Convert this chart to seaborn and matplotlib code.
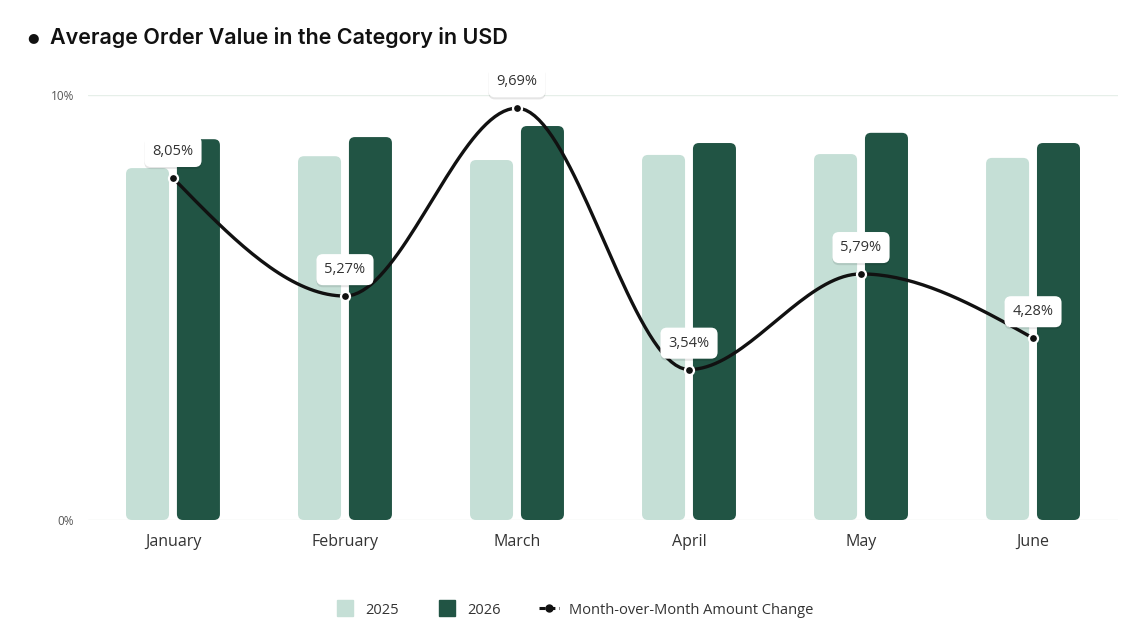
import numpy as np
import pandas as pd
import matplotlib
matplotlib.use("Agg")
import matplotlib.pyplot as plt
import seaborn as sns
from matplotlib.patches import FancyBboxPatch
from matplotlib.lines import Line2D
import matplotlib.patheffects as pe

# Data
months = ["January", "February", "March", "April", "May", "June"]
aov_2025 = [8.28, 8.56, 8.47, 8.59, 8.61, 8.52]
aov_2026 = [8.96, 9.01, 9.27, 8.87, 9.11, 8.87]
mom_change = [8.05, 5.27, 9.69, 3.54, 5.79, 4.28]
mom_labels = ["8,05%", "5,27%", "9,69%", "3,54%", "5,79%", "4,28%"]

light = "#c5dfd6"
dark = "#215444"

sns.set_theme(style="white")
plt.rcParams["font.family"] = ["Open Sans", "DejaVu Sans"]

df = pd.DataFrame({
    "month": months * 2,
    "value": aov_2025 + aov_2026,
    "year": ["2025"] * 6 + ["2026"] * 6,
})

W, H = 1148, 623
fig = plt.figure(figsize=(W / 100, H / 100), dpi=100)
ax = fig.add_axes([88 / W, (H - 520) / H, (1118 - 88) / W, (520 - 95) / H])

sns.barplot(data=df, x="month", y="value", hue="year", order=months,
            palette=[light, dark], width=0.592, gap=0.155, ax=ax,
            legend=False, errorbar=None, saturation=1)

ax.set_xlim(-0.494, 5.494)
ax.set_ylim(0, 10)

# round the bar corners
px_x = (1118 - 88) / 5.988
px_y = (520 - 95) / 10
r_px = 6
for p in list(ax.patches):
    x0, y0 = p.get_x(), p.get_y()
    w, h = p.get_width(), p.get_height()
    fb = FancyBboxPatch((x0, y0), w, h,
                        boxstyle=f"round,pad=0,rounding_size={r_px / px_x}",
                        mutation_aspect=px_x / px_y,
                        fc=p.get_facecolor(), ec="none", zorder=2)
    p.remove()
    ax.add_patch(fb)

# smooth monotone curve through the points
x = np.arange(len(mom_change), dtype=float)
y = np.array(mom_change)
d = np.diff(y)
m = np.zeros_like(y)
for i in range(1, len(y) - 1):
    if d[i - 1] * d[i] > 0:
        m[i] = 2 / (1 / d[i - 1] + 1 / d[i])
m[0] = 1.5 * d[0] - 0.5 * m[1]
m[-1] = 1.5 * d[-1] - 0.5 * m[-2]
xs, ys = [], []
for i in range(len(y) - 1):
    t = np.linspace(0, 1, 40)
    h00 = 2 * t**3 - 3 * t**2 + 1
    h10 = t**3 - 2 * t**2 + t
    h01 = -2 * t**3 + 3 * t**2
    h11 = t**3 - t**2
    xs.extend(x[i] + t)
    ys.extend(h00 * y[i] + h10 * m[i] + h01 * y[i + 1] + h11 * m[i + 1])
ax.plot(xs, ys, color="#111111", lw=2.4, zorder=4, solid_capstyle="round")
ax.scatter(x, y, s=42, color="#111111", edgecolor="white", linewidth=1.6, zorder=5)

for xi, yi, lab in zip(x, y, mom_labels):
    t = ax.annotate(lab, (xi, yi), xytext=(0, 19), textcoords="offset points",
                    ha="center", va="center", fontsize=10.5, color="#333333",
                    zorder=6, annotation_clip=False,
                    bbox=dict(boxstyle="round,pad=0.55,rounding_size=0.45",
                              fc="white", ec="none"))
    t.get_bbox_patch().set_path_effects([
        pe.SimplePatchShadow(offset=(0, -1.5), shadow_rgbFace="#000000", alpha=0.10),
        pe.Normal()])

# axes styling
ax.set_yticks([0, 10])
ax.set_yticklabels(["0%", "10%"], fontsize=8.5, color="#555555")
ax.tick_params(axis="y", length=0, pad=10)
ax.tick_params(axis="x", length=0, pad=10, labelsize=11.5, labelcolor="#333333")
ax.grid(axis="y", color="#e6efe9", lw=1)
ax.set_axisbelow(True)
ax.set_xlabel("")
ax.set_ylabel("")
sns.despine(ax=ax, left=True, bottom=True)

# title
fig.text(27 / W, 1 - 38 / H, "\u25CF", fontsize=9.5, color="#111111", va="center",
         family=["DejaVu Sans"])
fig.text(50 / W, 1 - 38 / H, "Average Order Value in the Category in USD",
         fontsize=15.5, fontweight="semibold", color="#111111", va="center",
         family=["Inter", "DejaVu Sans"])

# legend
handles = [
    Line2D([], [], marker="s", ls="none", ms=11, color=light),
    Line2D([], [], marker="s", ls="none", ms=11, color=dark),
    Line2D([], [], color="#111111", lw=2.2, ls=(0, (2, 1.2)), marker="o", ms=5),
]
fig.legend(handles, ["2025", "2026", "Month-over-Month Amount Change"],
           loc="center", bbox_to_anchor=(0.5, 1 - 610 / H), ncol=3, frameon=False,
           fontsize=10.5, handlelength=1.4, columnspacing=2.6, handletextpad=0.7,
           labelcolor="#333333")

fig.savefig("out.png", dpi=100)
